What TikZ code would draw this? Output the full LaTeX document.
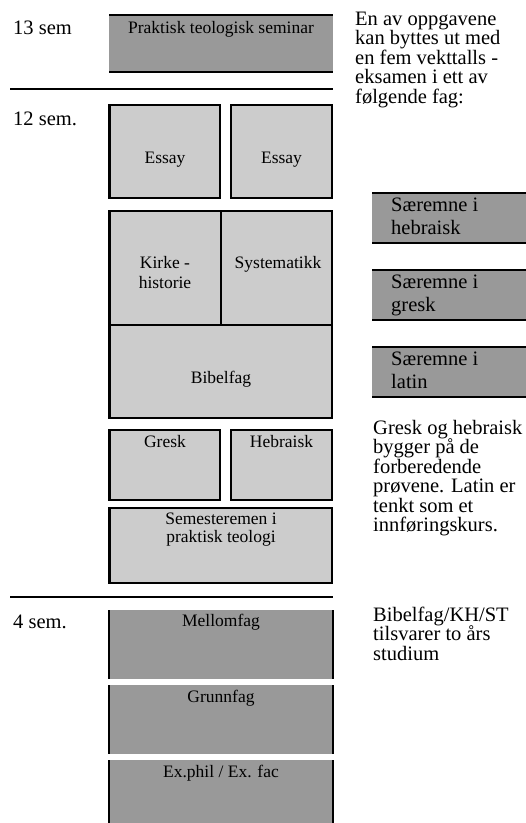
\documentclass[tikz,border=0pt]{standalone}
\usepackage{fontspec}
\setmainfont{Liberation Serif}
\usetikzlibrary{positioning}

\begin{document}
\begin{tikzpicture}[x=1pt,y=-1pt,
    semlbl/.style={font=\fontsize{20.5}{19.5}\selectfont,inner sep=0pt,align=left,anchor=base west},
    saertxt/.style={semlbl,font=\fontsize{20.5}{23.5}\selectfont},
    boxtxt/.style={font=\fontsize{17.5}{18.5}\selectfont,inner sep=0pt,align=center,anchor=base},
    litebox/.style={draw,line width=2.5pt,fill=black!20,inner sep=0pt,outer sep=0pt,anchor=north west},
    darkbox/.style={fill=black!40,inner sep=0pt,outer sep=0pt,anchor=north west},
    bar/.style={line width=2.5pt}]
  \useasboundingbox (0,0) rectangle (526,823);

  % 13. semester
  \node[semlbl] (sem13) at (13,34) {13 sem};
  \node[darkbox,minimum width=224pt,minimum height=57pt] (prakt) at (109,15) {};
  \draw[bar] (prakt.north west) -- (prakt.north east) (prakt.south west) -- (prakt.south east);
  \node[boxtxt] (praktT) at (221,33) {Praktisk teologisk seminar};
  \coordinate (cutA1) at (10,89);
  \coordinate (cutA2) at (333,89);
  \draw[bar] (cutA1) -- (cutA2);

  % 12. semester
  \node[semlbl] (sem12) at (13,125) {12 sem.};
  \node[litebox,minimum width=110.5pt,minimum height=93pt] (essay1) at (109.5,105) {};
  \node[litebox,minimum width=101pt,minimum height=93pt] (essay2) at (231,105) {};
  \node[boxtxt] (essay1T) at (165,163) {Essay};
  \node[boxtxt] (essay2T) at (281.5,163) {Essay};

  \node[litebox,minimum width=111.5pt,minimum height=114pt] (kirke) at (109.5,211) {};
  \node[litebox,minimum width=111pt,minimum height=114pt] (syst) at (221,211) {};
  \node[litebox,minimum width=222.5pt,minimum height=93pt] (bibel) at (109.5,325) {};
  \node[boxtxt,font=\fontsize{17.5}{20}\selectfont] (kirkeT) at (165,288) {Kirke -\\historie};
  \node[boxtxt] (systT) at (278,268) {Systematikk};
  \node[boxtxt] (bibelT) at (221,383) {Bibelfag};

  \node[litebox,minimum width=110.5pt,minimum height=70pt] (gresk) at (109.5,430) {};
  \node[litebox,minimum width=101pt,minimum height=70pt] (hebr) at (231,430) {};
  \node[boxtxt] (greskT) at (165,447) {Gresk};
  \node[boxtxt] (hebrT) at (281.5,447) {Hebraisk};

  \node[litebox,minimum width=222.5pt,minimum height=75pt] (semeks) at (109.5,508) {};
  \node[boxtxt] (semeksT) at (221,542.5) {Semesteremen i\\praktisk teologi};
  \coordinate (cutB1) at (10,597);
  \coordinate (cutB2) at (333,597);
  \draw[bar] (cutB1) -- (cutB2);

  % 4. semester
  \node[semlbl] (sem4) at (13,628) {4 sem.};
  \node[darkbox,minimum width=224pt,minimum height=69pt] (mellom) at (109,610) {};
  \node[darkbox,minimum width=224pt,minimum height=69pt] (grunn) at (109,685) {};
  \node[darkbox,minimum width=224pt,minimum height=69pt] (exphil) at (109,760) {};
  \draw[bar] (mellom.north west) -- (mellom.south west) (mellom.north east) -- (mellom.south east);
  \draw[bar] (grunn.north west) -- (grunn.south west) (grunn.north east) -- (grunn.south east);
  \draw[bar] (exphil.north west) -- (exphil.south west) (exphil.north east) -- (exphil.south east);
  \node[boxtxt] (mellomT) at (221,626) {Mellomfag};
  \node[boxtxt] (grunnT) at (221,702) {Grunnfag};
  \node[boxtxt] (exphilT) at (221,777) {Ex.phil / Ex. fac};

  % merknader til hoyre
  \node[semlbl] (note1) at (355,103) {En av oppgavene\\kan byttes ut med\\en fem vekttalls -\\eksamen i ett av\\følgende fag:};

  \node[darkbox,minimum width=170pt,minimum height=50pt] (saerheb) at (372,193) {};
  \node[darkbox,minimum width=170pt,minimum height=50pt] (saergre) at (372,270) {};
  \node[darkbox,minimum width=170pt,minimum height=50pt] (saerlat) at (372,347) {};
  \draw[bar] (saerheb.north west) -- (saerheb.north east) (saerheb.south west) -- (saerheb.south east);
  \draw[bar] (saergre.north west) -- (saergre.north east) (saergre.south west) -- (saergre.south east);
  \draw[bar] (saerlat.north west) -- (saerlat.north east) (saerlat.south west) -- (saerlat.south east);
  \node[saertxt] (saerhebT) at (391,234.5) {Særemne i\\hebraisk};
  \node[saertxt] (saergreT) at (391,311.5) {Særemne i\\gresk};
  \node[saertxt] (saerlatT) at (391,388.5) {Særemne i\\latin};

  \node[semlbl] (note2) at (373,531.5) {Gresk og hebraisk\\bygger på de\\forberedende\\prøvene. Latin er\\tenkt som et\\innføringskurs.};
  \node[semlbl] (note3) at (373,660) {Bibelfag/KH/ST\\tilsvarer to års\\studium};
\end{tikzpicture}
\end{document}
